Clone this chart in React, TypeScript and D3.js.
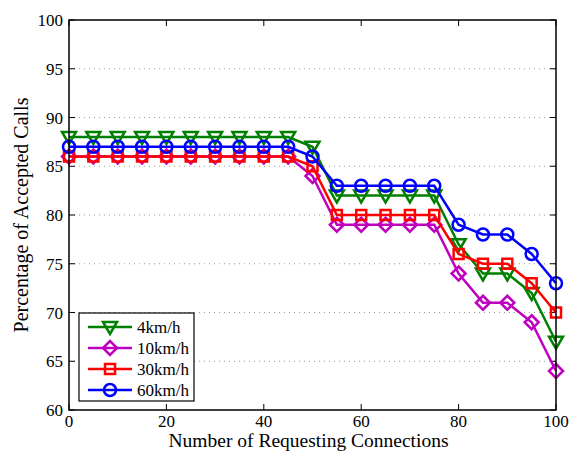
import React, {useEffect, useRef} from 'react';
import * as d3 from "d3";

const connections = [0, 5, 10, 15, 20, 25, 30, 35, 40, 45, 50, 55, 60, 65, 70, 75, 80, 85, 90, 95, 100];
const speed4 = [88, 88, 88, 88, 88, 88, 88, 88, 88, 88, 87, 82, 82, 82, 82, 82, 77, 74, 74, 72, 67];
const speed10 = [86, 86, 86, 86, 86, 86, 86, 86, 86, 86, 84, 79, 79, 79, 79, 79, 74, 71, 71, 69, 64];
const speed30 = [86, 86, 86, 86, 86, 86, 86, 86, 86, 86, 85, 80, 80, 80, 80, 80, 76, 75, 75, 73, 70];
const speed60 = [87, 87, 87, 87, 87, 87, 87, 87, 87, 87, 86, 83, 83, 83, 83, 83, 79, 78, 78, 76, 73];
const seriesNames = ["4km/h", "10km/h", "30km/h", "60km/h"];
const xTicks = [0, 20, 40, 60, 80, 100];
const yTicks = [60, 65, 70, 75, 80, 85, 90, 95, 100];

const colors = ["#008000", "#bf00bf", "#ff0000", "#0000ff"];
const markers = ["tri", "diamond", "square", "circle"];

function markerPath(kind: string, cx: number, cy: number): string {
    if (kind === "tri") {
        return `M${cx - 7},${cy - 5} L${cx + 7},${cy - 5} L${cx},${cy + 7} Z`;
    }
    if (kind === "diamond") {
        return `M${cx},${cy - 7} L${cx + 7},${cy} L${cx},${cy + 7} L${cx - 7},${cy} Z`;
    }
    if (kind === "square") {
        return `M${cx - 5},${cy - 5} L${cx + 5},${cy - 5} L${cx + 5},${cy + 5} L${cx - 5},${cy + 5} Z`;
    }
    return `M${cx - 6},${cy} A6,6 0 1,0 ${cx + 6},${cy} A6,6 0 1,0 ${cx - 6},${cy} Z`;
}

const App = () => {
    const ref = useRef<SVGSVGElement>(null);

    useEffect(() => {
        const W = 571, H = 454;
        const margin = {top: 20, right: 15, bottom: 44, left: 69};
        const width = W - margin.left - margin.right;
        const height = H - margin.top - margin.bottom;
        const font = "'Liberation Serif', 'Times New Roman', serif";

        const root = d3.select(ref.current);
        root.selectAll("*").remove();
        root.append("rect").attr("width", W).attr("height", H).attr("fill", "white");

        const svg = root.append("g")
            .attr("transform", "translate(" + margin.left + "," + margin.top + ")");

        const xScale = d3.scaleLinear().domain([0, 100]).range([0, width]);
        const yScale = d3.scaleLinear().domain([60, 100]).range([height, 0]);

        //dotted grid
        svg.selectAll(".grid")
            .data(yTicks.filter(t => t > 60 && t < 100))
            .enter().append("line")
            .attr("x1", 0).attr("x2", width)
            .attr("y1", d => yScale(d)).attr("y2", d => yScale(d))
            .attr("stroke", "#999")
            .attr("stroke-width", 1)
            .attr("stroke-dasharray", "1,4");

        //inward ticks on all 4 sides
        const tickLen = 6;
        xTicks.forEach(t => {
            svg.append("line").attr("x1", xScale(t)).attr("x2", xScale(t))
                .attr("y1", height).attr("y2", height - tickLen).attr("stroke", "black");
            svg.append("line").attr("x1", xScale(t)).attr("x2", xScale(t))
                .attr("y1", 0).attr("y2", tickLen).attr("stroke", "black");
            svg.append("text").attr("x", xScale(t)).attr("y", height + 17)
                .attr("text-anchor", "middle").attr("font-family", font).attr("font-size", 17)
                .text(t);
        });
        yTicks.forEach(t => {
            svg.append("line").attr("x1", 0).attr("x2", tickLen)
                .attr("y1", yScale(t)).attr("y2", yScale(t)).attr("stroke", "black");
            svg.append("line").attr("x1", width).attr("x2", width - tickLen)
                .attr("y1", yScale(t)).attr("y2", yScale(t)).attr("stroke", "black");
            svg.append("text").attr("x", -6).attr("y", yScale(t) + 6)
                .attr("text-anchor", "end").attr("font-family", font).attr("font-size", 17)
                .text(t);
        });

        //series
        const allSeries = [speed4, speed10, speed30, speed60];
        const line = d3.line<number>()
            .x((d, i) => xScale(connections[i]))
            .y(d => yScale(d));

        allSeries.forEach((vals, s) => {
            svg.append("path")
                .attr("d", line(vals))
                .attr("fill", "none")
                .attr("stroke", colors[s])
                .attr("stroke-width", 2.5);
            vals.forEach((v, i) => {
                svg.append("path")
                    .attr("d", markerPath(markers[s], xScale(connections[i]), yScale(v)))
                    .attr("fill", "none")
                    .attr("stroke", colors[s])
                    .attr("stroke-width", 2.5);
            });
        });

        //box
        svg.append("rect").attr("width", width).attr("height", height)
            .attr("fill", "none").attr("stroke", "black").attr("stroke-width", 1.5);

        //legend
        const legend = svg.append("g").attr("transform", "translate(10,293)");
        legend.append("rect").attr("width", 115).attr("height", 88)
            .attr("fill", "white").attr("stroke", "black").attr("stroke-width", 1.2);
        seriesNames.forEach((name, s) => {
            const ly = 14 + s * 21;
            legend.append("line").attr("x1", 9).attr("x2", 53)
                .attr("y1", ly).attr("y2", ly)
                .attr("stroke", colors[s]).attr("stroke-width", 2.5);
            legend.append("path").attr("d", markerPath(markers[s], 31, ly))
                .attr("fill", "none").attr("stroke", colors[s]).attr("stroke-width", 2.5);
            legend.append("text").attr("x", 58).attr("y", ly + 6)
                .attr("font-family", font).attr("font-size", 17)
                .text(name);
        });

        //axis labels
        svg.append("text").attr("x", width / 2 - 4).attr("y", height + 37)
            .attr("text-anchor", "middle").attr("font-family", font).attr("font-size", 19.5)
            .text("Number of Requesting Connections");
        svg.append("text")
            .attr("transform", "translate(" + (-41) + "," + (height / 2) + ") rotate(-90)")
            .attr("text-anchor", "middle").attr("font-family", font).attr("font-size", 20)
            .text("Percentage of Accepted Calls");
    }, []);

    return (
        <svg ref={ref} width={571} height={454}
             style={{position: "absolute", left: 0, top: 0}}></svg>
    );
};

export default App;
